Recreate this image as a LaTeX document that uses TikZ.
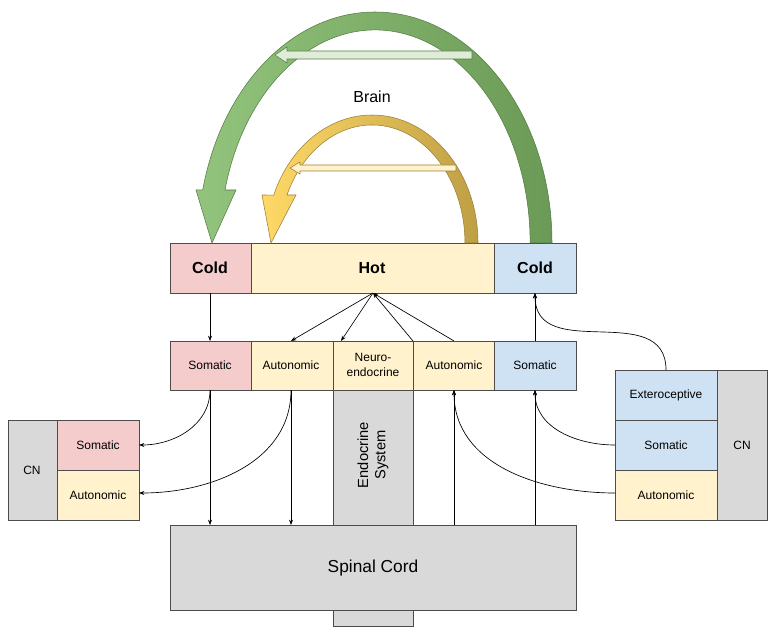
\documentclass[tikz,border=0pt]{standalone}
\usepackage{fontspec}
\setmainfont{Liberation Sans}
\usetikzlibrary{arrows.meta}
\definecolor{pinkbox}{HTML}{F4CCCC}
\definecolor{bluebox}{HTML}{CFE2F3}
\definecolor{yellowbox}{HTML}{FFF2CC}
\definecolor{graybox}{HTML}{D9D9D9}
\definecolor{greenlt}{HTML}{93C47D}
\definecolor{greendk}{HTML}{6A9A55}
\definecolor{yellowlt}{HTML}{FFD966}
\definecolor{yellowdk}{HTML}{BF9F45}
\tikzset{
  box/.style={draw=black!70, line width=0.5pt, inner sep=0pt},
  lbl/.style={font=\fontsize{9}{11}\selectfont, align=center},
  big/.style={font=\fontsize{12}{14}\selectfont\bfseries},
  link/.style={-{Stealth[length=4pt,width=3pt]}, line width=0.5pt},
}
\begin{document}
\begin{tikzpicture}[x=0.75pt,y=-0.75pt]
\useasboundingbox (0,0) rectangle (774,634);
% top row
\fill[pinkbox] (170,243) rectangle (251,293);
\fill[yellowbox] (251,243) rectangle (494,293);
\fill[bluebox] (494,243) rectangle (576,293);
\draw[box] (170,243) rectangle (251,293) (251,243) rectangle (494,293) (494,243) rectangle (576,293);
\node[big] (coldL) at (210,268) {Cold};
\node[big] (hot) at (372,268) {Hot};
\node[big] (coldR) at (535,268) {Cold};
% second row
\fill[pinkbox] (170,341) rectangle (251,390);
\fill[yellowbox] (251,341) rectangle (494,390);
\fill[bluebox] (494,341) rectangle (576,390);
\foreach \a/\b in {170/251,251/333,333/413,413/494,494/576}
  \draw[box] (\a,341) rectangle (\b,390);
\node[lbl] (somL) at (210,365) {Somatic};
\node[lbl] (autL) at (291,365) {Autonomic};
\node[lbl] (neuro) at (373,365) {Neuro-\\endocrine};
\node[lbl] (autR) at (454,365) {Autonomic};
\node[lbl] (somR) at (535,365) {Somatic};
% endocrine and spinal cord
\draw[box, fill=graybox] (333,390) rectangle (413,626);
\node[lbl, font=\fontsize{11}{13}\selectfont, rotate=90] (endo) at (373,455) {Endocrine\\System};
\draw[box, fill=graybox] (170,525) rectangle (576,610);
\node[font=\fontsize{13}{15}\selectfont] (spinal) at (373,568) {Spinal Cord};
% left CN
\draw[box, fill=graybox] (8,420) rectangle (57,520);
\draw[box, fill=pinkbox] (57,420) rectangle (139,470);
\draw[box, fill=yellowbox] (57,470) rectangle (139,520);
\node[lbl] (cnL) at (32,470) {CN};
\node[lbl] (lsom) at (98,445) {Somatic};
\node[lbl] (laut) at (98,495) {Autonomic};
% right CN
\draw[box, fill=bluebox] (615,370) rectangle (717,420);
\draw[box, fill=bluebox] (615,420) rectangle (717,470);
\draw[box, fill=yellowbox] (615,470) rectangle (717,520);
\draw[box, fill=graybox] (717,370) rectangle (767,520);
\node[lbl] (rext) at (666,395) {Exteroceptive};
\node[lbl] (rsom) at (666,445) {Somatic};
\node[lbl] (raut) at (666,495) {Autonomic};
\node[lbl] (cnR) at (742,445) {CN};
\node[font=\fontsize{12}{14}\selectfont] (brain) at (372,97) {Brain};
% coordinates for links
\coordinate (hotB) at (373,293);
\coordinate (coldLB) at (210,293);
\coordinate (coldRB) at (535,293);
\foreach \n/\x in {somL/210,autL/291,neuro/341,neuroR/413,autR/454,somR/535}{
  \coordinate (\n T) at (\x,341);
  \coordinate (\n B) at (\x,390);
  \coordinate (\n S) at (\x,525);
}
\draw[link] (coldLB) -- (somLT);
\draw[link] (hotB) -- (autLT);
\draw[link] (hotB) -- (neuroT);
\draw[link] (neuroRT) -- (hotB);
\draw[link] (autRT) -- (hotB);
\draw[link] (somRT) -- (coldRB);
\draw[link] (somLB) -- (somLS);
\draw[link] (autLB) -- (autLS);
\draw[link] (autRS) -- (autRB);
\draw[link] (somRS) -- (somRB);
\draw[link] (somLB) to[out=-90,in=0] (139,445);
\draw[link] (autLB) to[out=-90,in=0] (139,493);
\draw[link] (615,445) to[out=180,in=-90] (somRB);
\draw[link] (615,493) to[out=180,in=-90] (autRB);
\draw[link] (666,370) to[out=90,in=-90,looseness=1.2] (coldRB);
% green arc
\shade[left color=greenlt, right color=greendk, draw=greendk!80!black, line width=0.4pt]
  (552,243) arc[start angle=0,end angle=-166.7,x radius=177,y radius=231]
  -- (196,190) -- (212,243) -- (236,190) -- (225,190)
  arc[start angle=-165.6,end angle=0,x radius=155,y radius=213] -- cycle;
\draw[fill=greenlt!30, draw=greendk!80!black, line width=0.4pt]
  (472,51) -- (287,51) -- (287,47) -- (275,55) -- (287,63) -- (287,59) -- (472,59) -- cycle;
% yellow arc
\shade[left color=yellowlt, right color=yellowdk, draw=yellowdk!80!black, line width=0.4pt]
  (478,243) arc[start angle=0,end angle=-158,x radius=106,y radius=128]
  -- (262,195) -- (271,243) -- (296,195) -- (287,195)
  arc[start angle=-156,end angle=0,x radius=93,y radius=118] -- cycle;
\draw[fill=yellowbox, draw=yellowdk!80!black, line width=0.4pt]
  (456,165) -- (300,165) -- (300,162) -- (290,168) -- (300,174) -- (300,171) -- (456,171) -- cycle;
\end{tikzpicture}
\end{document}
